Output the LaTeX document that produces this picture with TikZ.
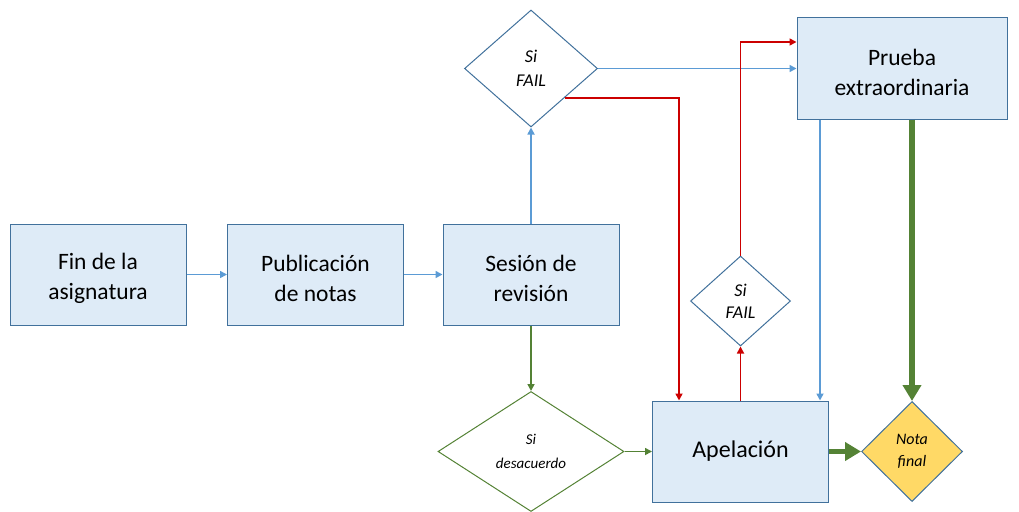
\documentclass[tikz,border=0pt]{standalone}
\usepackage{fontspec}
\setmainfont{Carlito}
\usetikzlibrary{shapes.geometric,arrows.meta}
\definecolor{boxfill}{RGB}{222,235,247}
\definecolor{boxline}{RGB}{65,113,156}
\definecolor{bluearr}{RGB}{91,155,213}
\definecolor{redarr}{RGB}{204,0,0}
\definecolor{greenarr}{RGB}{84,130,53}
\definecolor{notafill}{RGB}{255,217,102}
\tikzset{
  box/.style={draw=boxline, fill=boxfill, line width=1pt, minimum width=176pt, minimum height=101pt, inner sep=0pt, align=center, font=\fontsize{23.5}{30}\selectfont},
  dia/.style={diamond, draw=boxline, line width=1pt, inner sep=0pt, align=center, font=\itshape\fontsize{18}{24}\selectfont},
  bluea/.style={draw=bluearr, line width=1.6pt, -{Triangle[length=7pt,width=7pt]}},
  reda/.style={draw=redarr, line width=1.6pt, -{Triangle[length=7pt,width=7pt]}},
  greena/.style={draw=greenarr, line width=1.6pt, -{Triangle[length=7pt,width=7pt]}},
  greenthick/.style={draw=greenarr, line width=5.5pt, -{Triangle[length=16pt,width=18pt]}},
}
\begin{document}
\begin{tikzpicture}[x=1pt,y=-1pt]
\useasboundingbox (0,0) rectangle (1019,511);
\node[box] (fin) at (98,274.5) {\rule{0pt}{24pt}Fin de la\\asignatura};
\node[box] (pub) at (315.5,274.5) {\rule{0pt}{24pt}Publicación\\de notas};
\node[box] (ses) at (531,274.5) {\rule{0pt}{24pt}Sesión de\\revisión};
\node[box, minimum width=210pt] (prueba) at (902,68.5) {\rule{0pt}{24pt}Prueba\\extraordinaria};
\node[box, font=\fontsize{24}{30}\selectfont] (apel) at (740.5,451.5) {Apelación};
\node[dia, minimum width=133pt, minimum height=117pt] (fail1) at (531,68.5) {Si\\FAIL};
\node[dia, minimum width=100pt, minimum height=90pt, font=\itshape\fontsize{18}{22}\selectfont] (fail2) at (740.5,301) {Si\\FAIL};
\node[dia, draw=greenarr, minimum width=186pt, minimum height=120pt, font=\itshape\fontsize{15}{24}\selectfont] (desac) at (531,451.5) {Si\\desacuerdo};
\node[dia, fill=notafill, minimum width=101pt, minimum height=100pt, font=\itshape\fontsize{16}{22}\selectfont] (nota) at (912,451.5) {Nota\\final};
% blue connectors
\draw[bluea] (fin) -- (pub);
\draw[bluea] (pub) -- (ses);
\draw[bluea] (ses.north) -- (fail1.south);
\draw[bluea] (fail1.east) -- (prueba.west);
\draw[bluea] ([xshift=-82pt]prueba.south) -- ([xshift=-82pt]prueba.south |- apel.north);
% red connectors
\draw[reda] (fail1.south east) -| ([xshift=-61.5pt]apel.north);
\draw[reda] (apel.north) -- (fail2.south);
\draw[reda] (fail2.north) |- ([yshift=26.5pt]prueba.west);
% green connectors
\draw[greena] (ses.south) -- (desac.north);
\draw[greena] (desac.east) -- (apel.west);
\draw[greenthick] (nota.north |- prueba.south) -- (nota.north);
\draw[greenthick] (apel.east) -- (nota.west);
\end{tikzpicture}
\end{document}
